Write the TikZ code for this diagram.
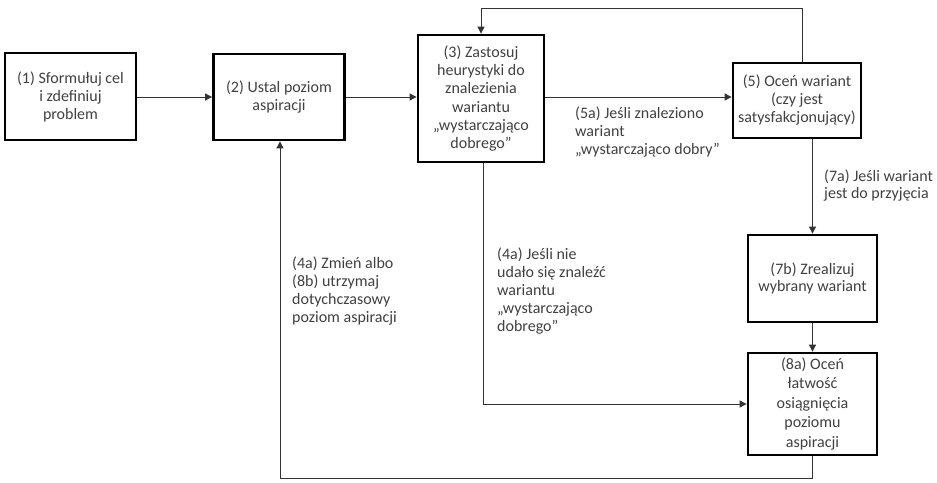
\documentclass[tikz,border=0pt]{standalone}
\usepackage{fontspec}
\setmainfont{Carlito}
\usetikzlibrary{arrows.meta,calc}
\begin{document}
\begin{tikzpicture}[x=1pt,y=-1pt,
  box/.style={draw,line width=2.8pt,align=center,inner sep=0pt,
    font=\fontsize{16}{18}\selectfont,text=black!75},
  lbl/.style={anchor=west,align=left,inner sep=0pt,
    font=\fontsize{16}{18}\selectfont,text=black!75},
  conn/.style={draw=black!80,line width=0.9pt},
  arr/.style={conn,-{Triangle[length=7pt,width=7pt]}}]
\useasboundingbox (0,0) rectangle (937,482);
\node[box,minimum width=131pt,minimum height=87pt] (b1) at (70.5,96.5)
  {(1) Sformułuj cel\\i zdefiniuj\\problem};
\node[box,minimum width=131pt,minimum height=86pt] (b2) at (279,97)
  {(2) Ustal poziom\\aspiracji};
\node[box,minimum width=126pt,minimum height=127pt,font=\fontsize{16}{18.3}\selectfont] (b3) at (481,98.5)
  {(3) Zastosuj\\heurystyki do\\znalezienia\\wariantu\\„wystarczająco\\dobrego”};
\node[box,minimum width=128pt,minimum height=75pt] (b5) at (797,100.5)
  {(5) Oceń wariant\\(czy jest\\satysfakcjonujący)};
\node[box,minimum width=129pt,minimum height=87pt,font=\fontsize{16}{17}\selectfont] (b7) at (812.5,278.5)
  {(7b) Zrealizuj\\wybrany wariant};
\node[box,minimum width=129pt,minimum height=102pt,font=\fontsize{16}{19.5}\selectfont] (b8) at (812.5,404)
  {(8a) Oceń\\łatwość\\osiągnięcia\\poziomu\\aspiracji};
\coordinate (top) at (802,8);
\coordinate (mid) at (483,404);
\coordinate (bot) at (280,478);
\draw[arr] (b1.east |- b2.east) -- (b2.west);
\draw[arr] (b2.east) -- (b3.west |- b2.east);
\draw[arr] (b3.east |- b2.east) -- (b5.west |- b2.east);
\draw[arr] (b5.north -| top) -- (top) -| (b3.north);
\draw[arr] (b5.south -| b7.north) -- (b7.north);
\draw[arr] (b7.south) -- (b8.north);
\draw[arr] (b3.south -| mid) -- (mid) -- (b8.west);
\draw[arr] (b8.south) |- (bot) -- (b2.south -| bot);
\node[lbl] (l5a) at (575,132) {(5a) Jeśli znaleziono\\wariant\\„wystarczająco dobry”};
\node[lbl,font=\fontsize{16}{17}\selectfont] (l7a) at (824,186) {(7a) Jeśli wariant\\jest do przyjęcia};
\node[lbl] (l4a) at (292,291.5) {(4a) Zmień albo\\(8b) utrzymaj\\dotychczasowy\\poziom aspiracji};
\node[lbl] (l4b) at (497,291.5) {(4a) Jeśli nie\\udało się znaleźć\\wariantu\\„wystarczająco\\dobrego”};
\end{tikzpicture}
\end{document}
